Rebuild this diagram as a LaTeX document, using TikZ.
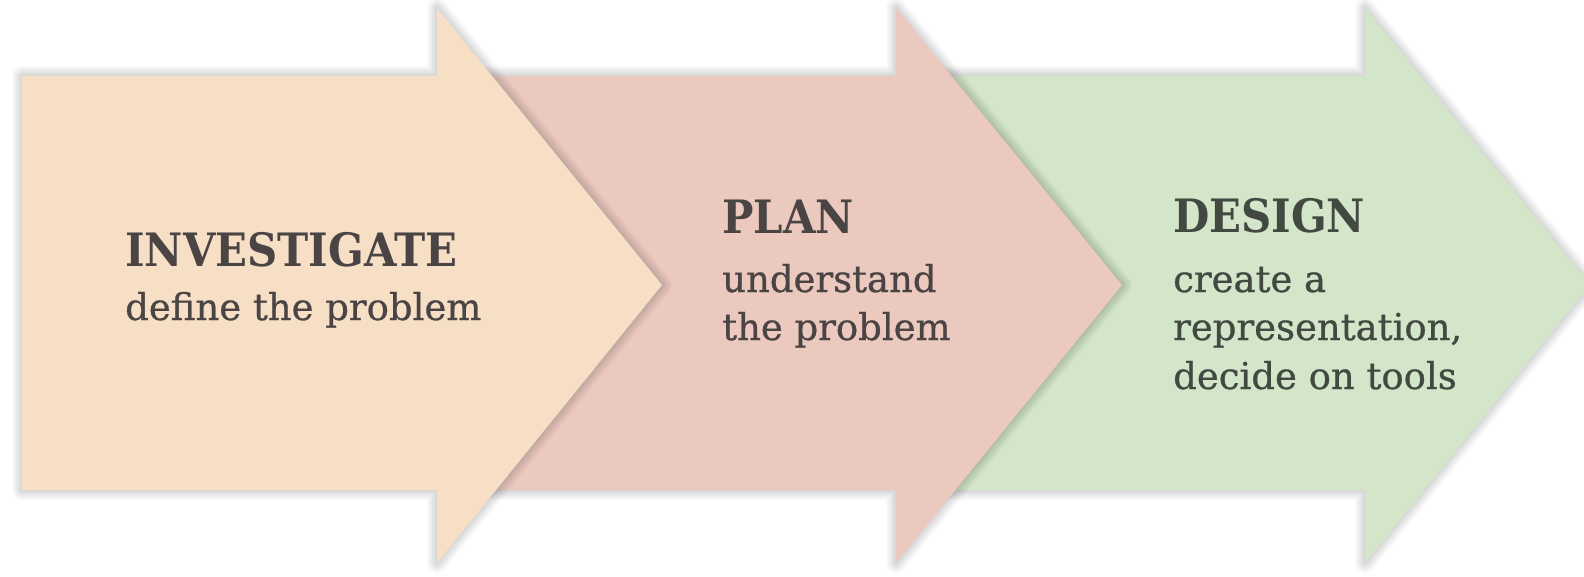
\documentclass[tikz,border=0pt]{standalone}
\usepackage{fontspec}
\setmainfont{DejaVu Serif}
\newfontfamily\subfont{DejaVu Serif}[RawFeature={embolden=0.7}]
\newfontfamily\ttlfont{DejaVu Serif}[FakeStretch=0.91]
\definecolor{peach}{HTML}{F7DFC6}
\definecolor{pinkc}{HTML}{EBC9BF}
\definecolor{greenc}{HTML}{D3E6CA}
\definecolor{txt}{HTML}{4A4444}
\definecolor{txtg}{HTML}{414941}
\tikzset{
  arrowpath/.style n args={3}{insert path={(#1,76) -- (#2,76) -- (#2,8) -- (#3,285) -- (#2,563) -- (#2,490) -- (#1,490) -- cycle}},
  ttl/.style={anchor=base west, inner sep=0pt, font=\fontsize{46}{46}\ttlfont\bfseries, text=txt},
  sub/.style={anchor=base west, inner sep=0pt, font=\fontsize{37}{37}\subfont, text=txt},
  shadowline/.style={line width=#1, black, opacity=0.014, line join=round},
}
\newcommand\softshadow[3]{%
  \foreach \w in {2,4,...,20} {\draw[shadowline=\w pt, arrowpath={#1}{#2}{#3}];}}
\begin{document}
\begin{tikzpicture}[x=1pt,y=-1pt]
\useasboundingbox (0,0) rectangle (1584,577);
\fill[white] (0,0) rectangle (1584,577);
% arrow 3
\softshadow{930}{1365}{1590}
\fill[greenc, arrowpath={930}{1365}{1590}];
% arrow 2
\softshadow{470}{896}{1122}
\fill[pinkc, arrowpath={470}{896}{1122}];
% arrow 1
\softshadow{22}{437}{662}
\fill[peach, arrowpath={22}{437}{662}];
% texts
\node[ttl] (t1) at (125,266) {INVESTIGATE};
\node[sub] (s1) at (125,320) {define the problem};
\node[ttl] (t2) at (722,234) {PLAN};
\node[sub] (s2a) at (722,292) {understand};
\node[sub] (s2b) at (722,340) {the problem};
\node[ttl, text=txtg] (t3) at (1173,233) {DESIGN};
\node[sub, text=txtg] (s3a) at (1173,292) {create a};
\node[sub, text=txtg] (s3b) at (1173,340) {representation,};
\node[sub, text=txtg] (s3c) at (1173,389) {decide on tools};
\end{tikzpicture}
\end{document}
